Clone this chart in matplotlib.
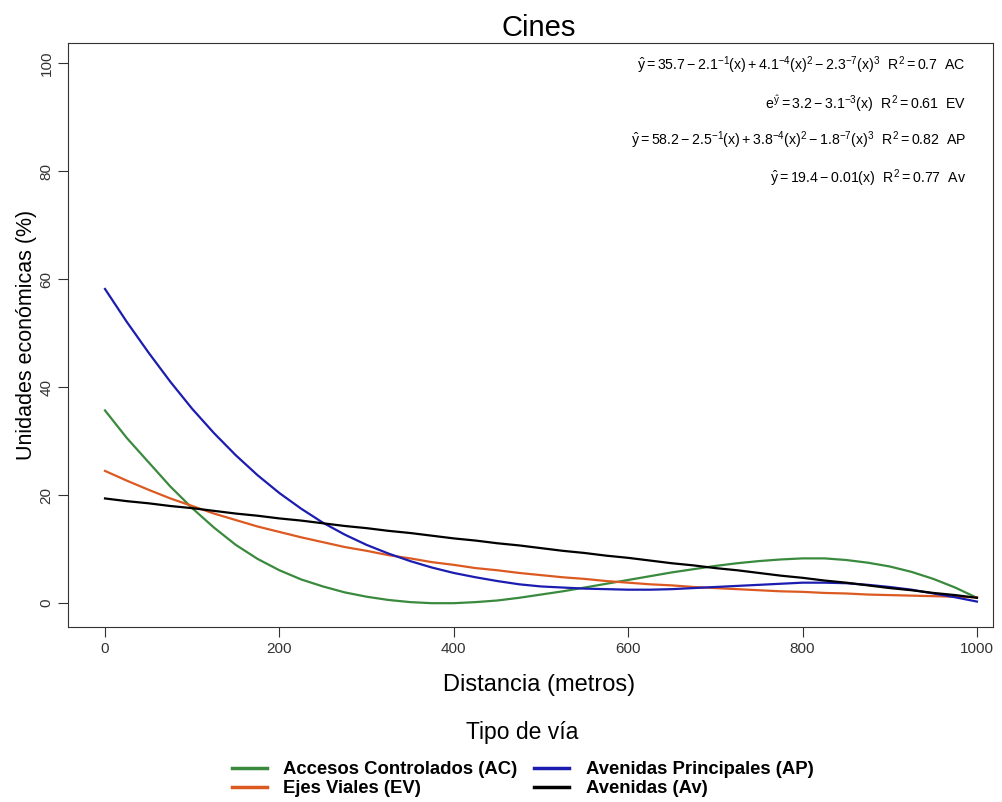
import numpy as np
import matplotlib.pyplot as plt

plt.rcParams['font.family'] = ['Liberation Sans', 'DejaVu Sans']
plt.rcParams['mathtext.fontset'] = 'custom'
plt.rcParams['mathtext.rm'] = 'Liberation Sans'
plt.rcParams['mathtext.it'] = 'Liberation Sans'
plt.rcParams['mathtext.bf'] = 'Liberation Sans:bold'

distancia = np.arange(0, 1001, 25)
ac = [35.7, 30.6, 26.1, 21.6, 17.6, 14.0, 10.8, 8.2, 6.1, 4.4, 3.1,
      2.0, 1.2, 0.6, 0.2, 0.0, 0.0, 0.2, 0.5, 1.0, 1.6,
      2.2, 2.9, 3.6, 4.3, 5.0, 5.7, 6.3, 6.9, 7.4, 7.8,
      8.1, 8.3, 8.3, 8.0, 7.5, 6.8, 5.8, 4.5, 2.9, 1.0]
ev = [24.5, 22.7, 21.0, 19.4, 18.0, 16.6, 15.4, 14.2, 13.2, 12.2, 11.3,
      10.4, 9.7, 8.9, 8.3, 7.6, 7.1, 6.5, 6.1, 5.6, 5.2,
      4.8, 4.5, 4.1, 3.8, 3.5, 3.3, 3.0, 2.8, 2.6, 2.4,
      2.2, 2.1, 1.9, 1.8, 1.6, 1.5, 1.4, 1.3, 1.2, 1.1]
ap = [58.2, 52.1, 46.4, 41.0, 36.0, 31.5, 27.4, 23.7, 20.4, 17.5, 14.9,
      12.7, 10.8, 9.2, 7.8, 6.6, 5.6, 4.8, 4.1, 3.5, 3.1,
      2.9, 2.7, 2.6, 2.5, 2.5, 2.6, 2.8, 3.0, 3.2, 3.4,
      3.6, 3.8, 3.8, 3.7, 3.4, 3.0, 2.5, 1.8, 1.1, 0.3]
av = [19.4, 18.9, 18.5, 18.0, 17.6, 17.1, 16.6, 16.2, 15.7, 15.3, 14.8,
      14.3, 13.9, 13.4, 13.0, 12.5, 12.0, 11.6, 11.1, 10.7, 10.2,
      9.7, 9.3, 8.8, 8.4, 7.9, 7.4, 7.0, 6.5, 6.1, 5.6,
      5.1, 4.7, 4.2, 3.8, 3.3, 2.8, 2.4, 1.9, 1.5, 1.0]

etiquetas = ['Accesos Controlados (AC)', 'Ejes Viales (EV)',
             'Avenidas Principales (AP)', 'Avenidas (Av)']
colores = ['#3a8a3e', '#dc5a22', '#1c1cb0', '#000000']

ecuaciones = [
    r'$\hat{y} = 35.7 - 2.1^{-1}(x) + 4.1^{-4}(x)^2 - 2.3^{-7}(x)^3$  $R^2 = 0.7$  AC',
    r'$e^{\hat{y}} = 3.2 - 3.1^{-3}(x)$  $R^2 = 0.61$  EV',
    r'$\hat{y} = 58.2 - 2.5^{-1}(x) + 3.8^{-4}(x)^2 - 1.8^{-7}(x)^3$  $R^2 = 0.82$  AP',
    r'$\hat{y} = 19.4 - 0.01(x)$  $R^2 = 0.77$  Av',
]

fig = plt.figure(figsize=(10.02, 8.02), dpi=100)
ax = fig.add_axes([0.0679, 0.218, 0.923, 0.728])

lineas = []
for serie, col, lab in zip([ac, ev, ap, av], colores, etiquetas):
    l, = ax.plot(distancia, serie, color=col, lw=1.6, label=lab)
    lineas.append(l)

ax.set_xlim(-42.4, 1018.3)
ax.set_ylim(-4.44, 103.7)
ax.set_xticks(np.arange(0, 1001, 200))
ax.set_yticks(np.arange(0, 101, 20))
ax.tick_params(direction='out', length=7, labelsize=11, colors='#333333')
for lbl in ax.get_yticklabels():
    lbl.set_rotation(90)
    lbl.set_va('center')
for s in ax.spines.values():
    s.set_color('#333333')

ax.set_title('Cines', fontsize=21, pad=5, x=0.509)
ax.set_xlabel('Distancia (metros)', fontsize=17, labelpad=13, x=0.509)
ax.set_ylabel('Unidades económicas (%)', fontsize=15.5, labelpad=2)

ypos = [65, 104, 140, 178]
for txt, yp in zip(ecuaciones, ypos):
    fig.text(966 / 1002, 1 - yp / 802, txt, ha='right', va='center', fontsize=10.2)

# leyenda
fig.text(0.5215, 1 - 733 / 802, 'Tipo de vía', ha='center', va='center', fontsize=16.5)
leg = fig.legend(handles=lineas, ncol=2, loc='upper center',
                 bbox_to_anchor=(0.5215, 1 - 750 / 802), frameon=False,
                 prop={'weight': 'bold', 'size': 13.3},
                 handlelength=1.9, columnspacing=0.9,
                 handletextpad=0.9, labelspacing=0.12, borderpad=0.1)
for l in leg.get_lines():
    l.set_linewidth(2.5)

fig.savefig('out.png', dpi=100)
